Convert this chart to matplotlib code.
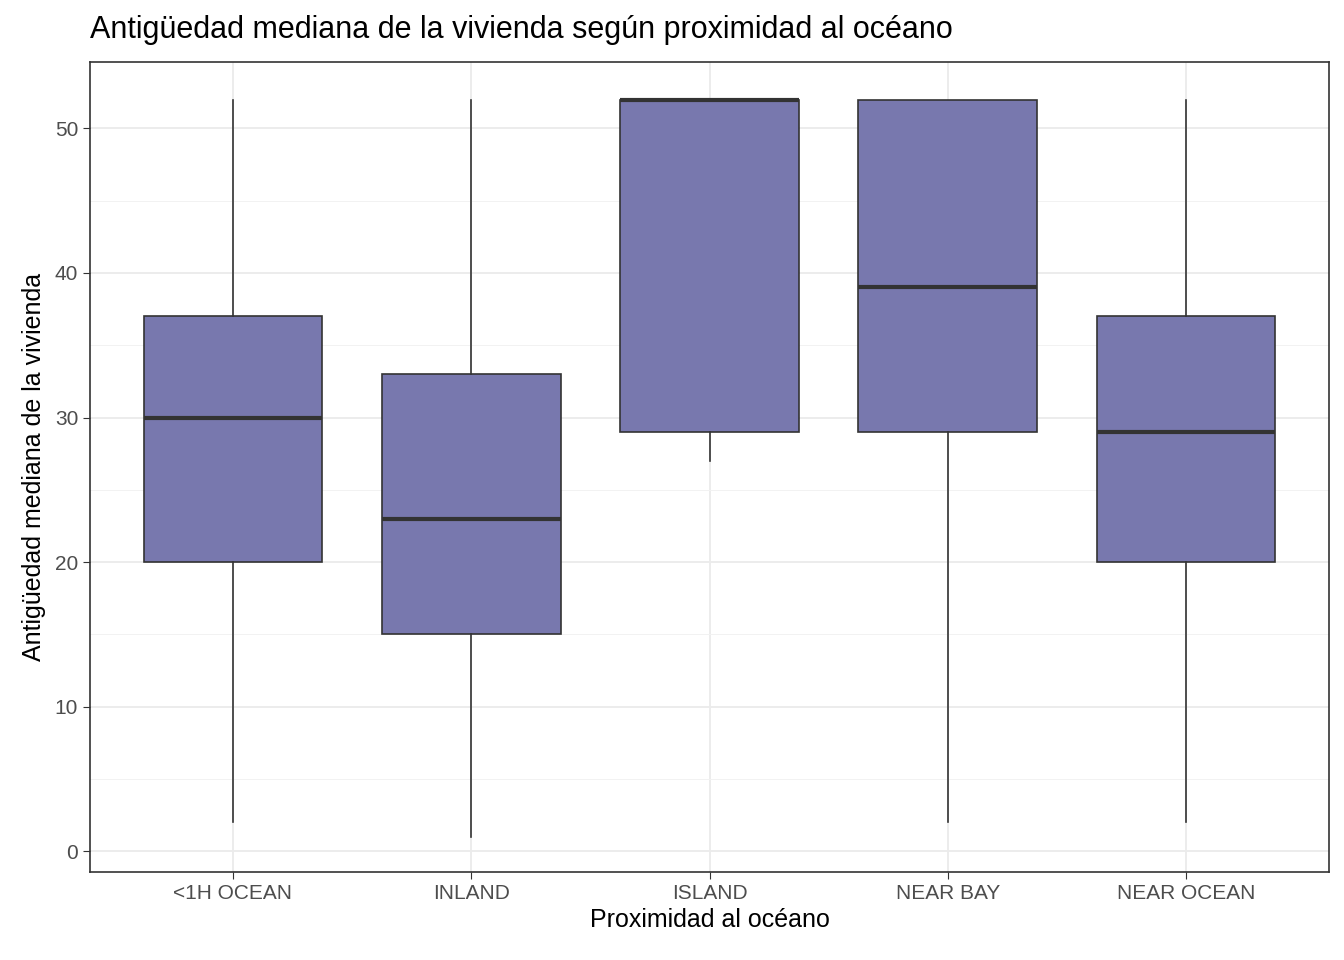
import matplotlib
matplotlib.use("Agg")
import matplotlib.pyplot as plt

categories = ["<1H OCEAN", "INLAND", "ISLAND", "NEAR BAY", "NEAR OCEAN"]
mins = [2, 1, 27, 2, 2]
q1s = [20, 15, 29, 29, 20]
meds = [30, 23, 52, 39, 29]
q3s = [37, 33, 52, 52, 37]
maxs = [52, 52, 52, 52, 52]

stats = [dict(label=c, whislo=a, q1=b, med=m, q3=d, whishi=e, fliers=[])
         for c, a, b, m, d, e in zip(categories, mins, q1s, meds, q3s, maxs)]

plt.rcParams['font.family'] = ['Liberation Sans', 'DejaVu Sans']
fig = plt.figure(figsize=(13.44, 9.6), dpi=100)
ax = fig.add_axes([90/1344, 88/960, (1329-90)/1344, (872-62)/960])

ax.bxp(stats, positions=range(1, 6), widths=0.75, patch_artist=True, showcaps=False,
       boxprops=dict(facecolor="#7878AE", edgecolor="#333333", linewidth=1.2),
       medianprops=dict(color="#333333", linewidth=3),
       whiskerprops=dict(color="#333333", linewidth=1.2))

ax.set_xlim(0.4, 5.6)
ax.set_ylim(-1.45, 54.6)
ax.set_yticks([0, 10, 20, 30, 40, 50])
ax.set_yticks([5, 15, 25, 35, 45], minor=True)
ax.set_xticks(range(1, 6))
ax.set_xticklabels(categories)
ax.grid(True, which="major", color="#EBEBEB", linewidth=1.3)
ax.grid(True, which="minor", axis="y", color="#F2F2F2", linewidth=0.7)
ax.set_axisbelow(True)
for s in ax.spines.values():
    s.set_color("#333333"); s.set_linewidth(1.2)
ax.tick_params(axis="both", colors="#333333", labelcolor="#4D4D4D", labelsize=15, length=5)
ax.tick_params(which="minor", length=0)
ax.set_xlabel("Proximidad al océano", fontsize=18, labelpad=4)
ax.set_ylabel("Antigüedad mediana de la vivienda", fontsize=18, labelpad=6)
fig.text(90/1344, 1 - 30/960, "Antigüedad mediana de la vivienda según proximidad al océano",
         fontsize=22, va="center", ha="left")
fig.savefig("out.png", dpi=100)
